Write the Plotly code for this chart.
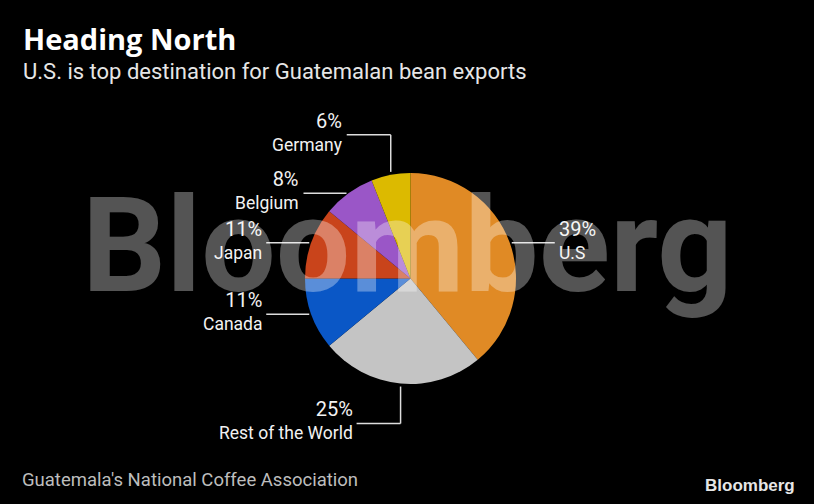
import math
import plotly.graph_objects as go

# ---- data ----
countries = ["U.S", "Rest of the World", "Canada", "Japan", "Belgium", "Germany"]
shares = [39, 25, 11, 11, 8, 6]
pct_labels = ["39%", "25%", "11%", "11%", "8%", "6%"]
colors = ["#E08A25", "#C4C4C4", "#0A57C6", "#C9441B", "#9A56C7", "#DCBA00"]
# leader style per slice: side of label and type of leader
leader_kind = ["right", "down", "left", "left", "left", "up"]

title = "Heading North"
subtitle = "U.S. is top destination for Guatemalan bean exports"
source = "Guatemala's National Coffee Association"

W, H = 814, 504
CX, CY, R = 410.5, 278.5, 105.5


def px(x):
    return x / W


def py(y):
    return 1 - y / H


fig = go.Figure()
fig.add_trace(go.Pie(
    labels=countries, values=shares, sort=False, direction="clockwise", rotation=0,
    marker=dict(colors=colors, line=dict(width=0)), textinfo="none", hoverinfo="label+percent",
    domain=dict(x=[px(CX - R), px(CX + R)], y=[py(CY + R), py(CY - R)]),
    showlegend=False,
))

shapes = []
annotations = []
total = sum(shares)
cum = 0
line_col = "#DDDDDD"
for name, v, pl, kind in zip(countries, shares, pct_labels, leader_kind):
    mid = (cum + v / 2) / total * 2 * math.pi
    cum += v
    ex = CX + R * math.sin(mid)
    ey = CY - R * math.cos(mid)
    if kind in ("left", "right"):
        sgn = -1 if kind == "left" else 1
        x0 = ex + sgn * 2
        x1 = ex + sgn * 45
        yl = ey
        shapes.append(dict(type="line", xref="paper", yref="paper",
                           x0=px(x0), x1=px(x1), y0=py(yl), y1=py(yl),
                           line=dict(color=line_col, width=1.5)))
        tx = x1 + sgn * 2
    else:
        sgn = -1 if kind == "up" else 1
        y0 = ey + sgn * 3
        yl = ey + sgn * 40
        x1 = ex - 44
        shapes.append(dict(type="line", xref="paper", yref="paper",
                           x0=px(ex), x1=px(ex), y0=py(y0), y1=py(yl),
                           line=dict(color=line_col, width=1.5)))
        shapes.append(dict(type="line", xref="paper", yref="paper",
                           x0=px(ex), x1=px(x1), y0=py(yl), y1=py(yl),
                           line=dict(color=line_col, width=1.5)))
        tx = x1 - 2
    xanchor = "left" if kind == "right" else "right"
    label = "<span style='font-size:20px'>" + pl + "</span><br>" + name
    annotations.append(dict(text=label, x=px(tx), y=py(yl - 3.2), xref="paper", yref="paper",
                            xanchor=xanchor, yanchor="middle", align=xanchor, showarrow=False,
                            font=dict(family="Roboto", size=17.5, color="#F2F2F2")))

# watermark
annotations.append(dict(text="<b>Bloomberg</b>", x=px(407), y=py(246), xref="paper", yref="paper",
                        xanchor="center", yanchor="middle", showarrow=False,
                        font=dict(family="Roboto", size=132, color="rgba(255,255,255,0.33)")))
# title, subtitle, source, logo
annotations.append(dict(text="<b>" + title + "</b>", x=px(21), y=py(39), xref="paper", yref="paper",
                        xanchor="left", yanchor="middle", showarrow=False,
                        font=dict(family="Open Sans", size=29, color="#FFFFFF")))
annotations.append(dict(text=subtitle, x=px(21), y=py(72), xref="paper", yref="paper",
                        xanchor="left", yanchor="middle", showarrow=False,
                        font=dict(family="Roboto", size=22, color="#E6E6E6")))
annotations.append(dict(text=source, x=px(20), y=py(480), xref="paper", yref="paper",
                        xanchor="left", yanchor="middle", showarrow=False,
                        font=dict(family="Roboto", size=18.5, color="#BDBDBD")))
annotations.append(dict(text="<b>Bloomberg</b>", x=px(797), y=py(485), xref="paper", yref="paper",
                        xanchor="right", yanchor="middle", showarrow=False,
                        font=dict(family="Liberation Sans", size=17, color="#E6E6E6")))

fig.update_layout(
    width=W, height=H, margin=dict(l=0, r=0, t=0, b=0),
    paper_bgcolor="#000000", plot_bgcolor="#000000",
    shapes=shapes, annotations=annotations,
)
fig.write_html("out.html", config={"displayModeBar": False},
               post_script="document.body.style.margin='0';")
